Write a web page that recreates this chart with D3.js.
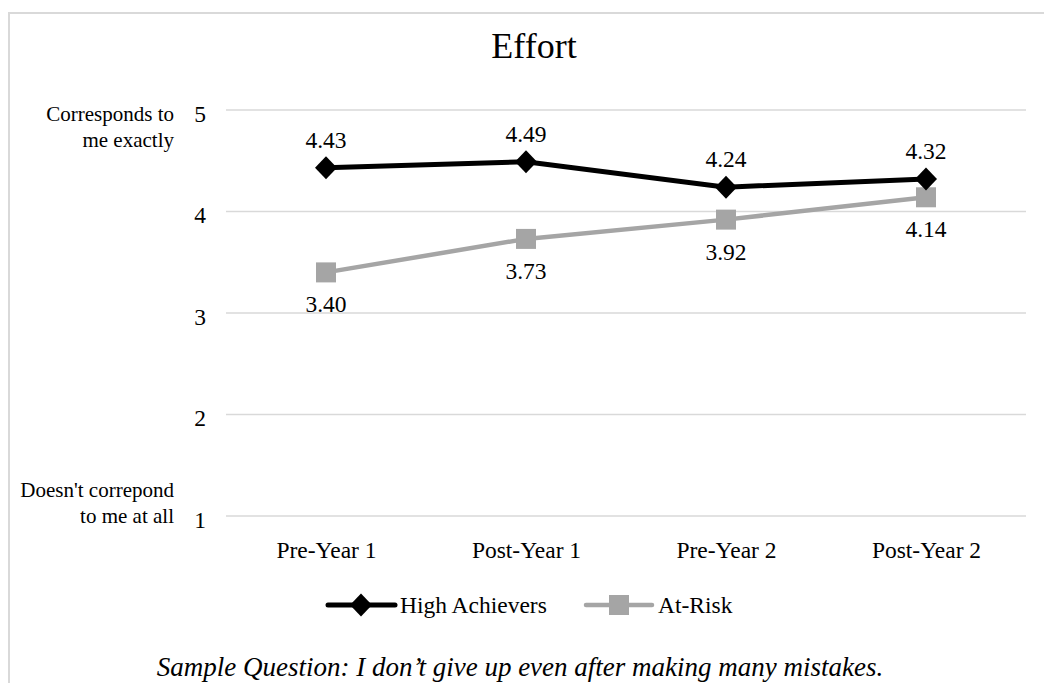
<!DOCTYPE html>
<html>
<head>
<meta charset="utf-8">
<script src="https://cdn.jsdelivr.net/npm/d3@7"></script>
<style>
  html, body { margin: 0; padding: 0; background: #fff; }
  svg { display: block; font-family: "Liberation Serif", "Times New Roman", serif; }
</style>
</head>
<body>
<svg id="chart" width="1044" height="683"></svg>
<script>
// Survey waves along the x axis
const categories = ["Pre-Year 1", "Post-Year 1", "Pre-Year 2", "Post-Year 2"];
// Mean scores per group
const highAchievers = [4.43, 4.49, 4.24, 4.32];
const atRisk = [3.40, 3.73, 3.92, 4.14];
// Likert scale ticks and anchor labels
const yTicks = [1, 2, 3, 4, 5];
const topAnchor = ["Corresponds to", "me exactly"];
const bottomAnchor = ["Doesn't correpond", "to me at all"];
const seriesNames = ["High Achievers", "At-Risk"];
const title = "Effort";
const caption = "Sample Question: I don\u2019t give up even after making many mistakes.";

const svg = d3.select("#chart");
const black = "#000000", gray = "#a5a5a5", grid = "#d9d9d9";

// outer frame of the chart area
svg.append("rect")
  .attr("x", 9).attr("y", 13).attr("width", 1100).attr("height", 720)
  .attr("fill", "none").attr("stroke", grid).attr("stroke-width", 2);

const x = d3.scalePoint().domain(categories).range([226, 1026]).padding(0.5);
const y = d3.scaleLinear().domain([1, 5]).range([516, 110]);

// title
svg.append("text").attr("x", 534).attr("y", 58)
  .attr("text-anchor", "middle").attr("font-size", 36).attr("fill", "#000")
  .text(title);

// horizontal gridlines
svg.append("g").selectAll("line").data(yTicks).join("line")
  .attr("x1", 226).attr("x2", 1026)
  .attr("y1", d => y(d)).attr("y2", d => y(d))
  .attr("stroke", grid).attr("stroke-width", 1.5);

// y axis tick labels
const yAxis = d3.axisLeft(y).tickValues(yTicks).tickSize(0).tickPadding(0).tickFormat(d3.format("d"));
const yg = svg.append("g").attr("transform", "translate(206,0)").call(yAxis);
yg.select(".domain").remove();
yg.selectAll("text").attr("font-size", 23.5).attr("font-family", "Liberation Serif")
  .attr("fill", "#000").attr("dy", "0.48em");

// anchor labels beside the top and bottom ticks
function anchor(lines, baseY) {
  const t = svg.append("text").attr("text-anchor", "end").attr("font-size", 21).attr("fill", "#000");
  lines.forEach((s, i) => t.append("tspan").attr("x", 174).attr("y", baseY + i * 26).text(s));
}
anchor(topAnchor, y(5) + 11);
anchor(bottomAnchor, y(1) - 19);

// x axis category labels
const xAxis = d3.axisBottom(x).tickSize(0).tickPadding(0);
const xg = svg.append("g").attr("transform", "translate(0,541)").call(xAxis);
xg.select(".domain").remove();
xg.selectAll("text").attr("font-size", 23.5).attr("font-family", "Liberation Serif")
  .attr("fill", "#000").attr("dy", "0.71em");

const diamond = (cx, cy) => `M${cx},${cy - 11.5}L${cx + 11},${cy}L${cx},${cy + 11.5}L${cx - 11},${cy}Z`;
const line = d3.line().x((d, i) => x(categories[i])).y(d => y(d));

// At-Risk series
svg.append("path").datum(atRisk).attr("d", line)
  .attr("fill", "none").attr("stroke", gray).attr("stroke-width", 4.5);
svg.append("g").selectAll("rect").data(atRisk).join("rect")
  .attr("x", (d, i) => x(categories[i]) - 10).attr("y", d => y(d) - 10)
  .attr("width", 20).attr("height", 20).attr("fill", gray);
svg.append("g").selectAll("text").data(atRisk).join("text")
  .attr("x", (d, i) => x(categories[i])).attr("y", d => y(d) + 40)
  .attr("text-anchor", "middle").attr("font-size", 23.5).attr("fill", "#000")
  .text(d => d.toFixed(2));

// High Achievers series
svg.append("path").datum(highAchievers).attr("d", line)
  .attr("fill", "none").attr("stroke", black).attr("stroke-width", 5);
svg.append("g").selectAll("path").data(highAchievers).join("path")
  .attr("d", (d, i) => diamond(x(categories[i]), y(d))).attr("fill", black);
svg.append("g").selectAll("text").data(highAchievers).join("text")
  .attr("x", (d, i) => x(categories[i])).attr("y", d => y(d) - 20)
  .attr("text-anchor", "middle").attr("font-size", 23.5).attr("fill", "#000")
  .text(d => d.toFixed(2));

// legend
const legY = 605;
const lg = svg.append("g");
lg.append("line").attr("x1", 328).attr("x2", 395).attr("y1", legY).attr("y2", legY)
  .attr("stroke", black).attr("stroke-width", 5).attr("stroke-linecap", "round");
lg.append("path").attr("d", diamond(361, legY)).attr("fill", black);
lg.append("text").attr("x", 400).attr("y", legY + 8).attr("font-size", 23.5).attr("fill", "#000").text(seriesNames[0]);
lg.append("line").attr("x1", 586).attr("x2", 652).attr("y1", legY).attr("y2", legY)
  .attr("stroke", gray).attr("stroke-width", 4.5).attr("stroke-linecap", "round");
lg.append("rect").attr("x", 609).attr("y", legY - 10).attr("width", 20).attr("height", 20).attr("fill", gray);
lg.append("text").attr("x", 658).attr("y", legY + 8).attr("font-size", 23.5).attr("fill", "#000").text(seriesNames[1]);

// sample question caption
svg.append("text").attr("x", 520).attr("y", 676)
  .attr("text-anchor", "middle").attr("font-size", 27).attr("font-style", "italic").attr("fill", "#000")
  .text(caption);
</script>
</body>
</html>
